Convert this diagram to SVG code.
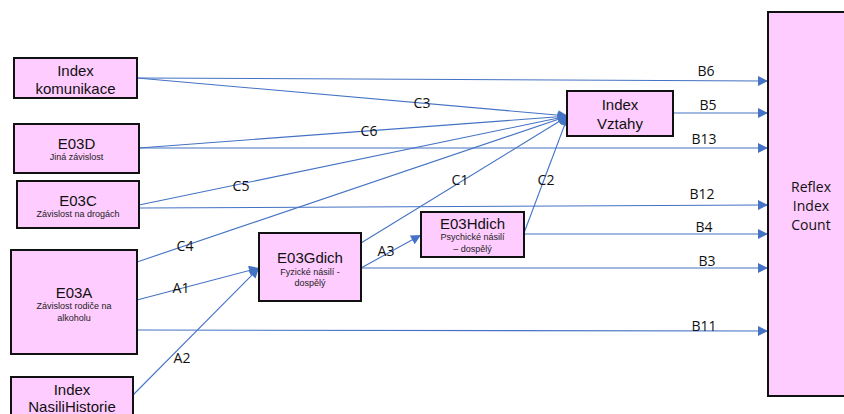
<svg xmlns="http://www.w3.org/2000/svg" width="844" height="414" viewBox="0 0 844 414">
<defs>
<marker id="ah" viewBox="0 0 10 10" refX="10" refY="5" markerWidth="11" markerHeight="10" markerUnits="userSpaceOnUse" orient="auto">
<path d="M0,0 L10,5 L0,10 z" fill="#4472C4"/>
</marker>
<style>
.n rect{fill:#FFCCFF;stroke:#111;stroke-width:2}
.t{font-family:"Liberation Sans",Arial,sans-serif;font-size:15px;fill:#111;text-anchor:middle;dominant-baseline:central}
.s{font-family:"Liberation Sans",Arial,sans-serif;font-size:9px;fill:#222;text-anchor:middle;dominant-baseline:central}
.c line{stroke:#4472C4;stroke-width:1.1;marker-end:url(#ah)}
.l{font-family:"Open Sans","Liberation Sans",sans-serif;font-size:14px;fill:#111;text-anchor:middle;dominant-baseline:central}
</style>
</defs>
<rect width="844" height="414" fill="#fff"/>
<g class="c">
<line x1="137" y1="78" x2="768" y2="81"/>
<line x1="673" y1="113" x2="768" y2="113"/>
<line x1="139" y1="148" x2="768" y2="148"/>
<line x1="139" y1="208" x2="768" y2="205"/>
<line x1="524" y1="234" x2="768" y2="234"/>
<line x1="361" y1="268" x2="768" y2="268"/>
<line x1="137" y1="330" x2="768" y2="331"/>
<line x1="137" y1="78" x2="568" y2="116"/>
<line x1="139" y1="148" x2="568" y2="116"/>
<line x1="139" y1="205" x2="568" y2="116"/>
<line x1="137" y1="262" x2="568" y2="116"/>
<line x1="361" y1="243" x2="568" y2="116"/>
<line x1="524" y1="233" x2="568" y2="116"/>
<line x1="137" y1="300" x2="259" y2="268"/>
<line x1="133" y1="395" x2="259" y2="268"/>
<line x1="361" y1="268" x2="421" y2="235"/>
</g>
<g id="labels">
<text class="l" x="706" y="70">B6</text>
<text class="l" x="708" y="104">B5</text>
<text class="l" x="704" y="138">B13</text>
<text class="l" x="702" y="193">B12</text>
<text class="l" x="704" y="226">B4</text>
<text class="l" x="707" y="260">B3</text>
<text class="l" x="704" y="325">B11</text>
<text class="l" x="422" y="102">C3</text>
<text class="l" x="369" y="130">C6</text>
<text class="l" x="241" y="185">C5</text>
<text class="l" x="185" y="245">C4</text>
<text class="l" x="460" y="179">C1</text>
<text class="l" x="546" y="179">C2</text>
<text class="l" x="181" y="287">A1</text>
<text class="l" x="182" y="357">A2</text>
<text class="l" x="386" y="250">A3</text>
</g>
<g id="komunikace" class="n"><rect x="14" y="58" width="123" height="40"/>
<text class="t" x="75.5" y="70">Index</text><text class="t" x="75.5" y="88">komunikace</text></g>
<g id="E03D" class="n"><rect x="14" y="124" width="125" height="49"/>
<text class="t" x="76.5" y="143">E03D</text><text class="s" x="76.5" y="157">Jiná závislost</text></g>
<g id="E03C" class="n"><rect x="17" y="181" width="122" height="47"/>
<text class="t" x="78" y="200">E03C</text><text class="s" x="78" y="214">Závislost na drogách</text></g>
<g id="E03A" class="n"><rect x="11" y="250" width="126" height="104"/>
<text class="t" x="74" y="292">E03A</text><text class="s" x="74" y="306">Závislost rodiče na</text><text class="s" x="74" y="318">alkoholu</text></g>
<g id="NasiliHistorie" class="n"><rect x="11" y="377" width="122" height="45"/>
<text class="t" x="72" y="389">Index</text><text class="t" x="72" y="406">NasiliHistorie</text></g>
<g id="E03Gdich" class="n"><rect x="259" y="233" width="102" height="68"/>
<text class="t" x="310" y="257">E03Gdich</text><text class="s" x="310" y="272">Fyzické násilí -</text><text class="s" x="310" y="283">dospělý</text></g>
<g id="E03Hdich" class="n"><rect x="421" y="212" width="103" height="45"/>
<text class="t" x="472.5" y="223">E03Hdich</text><text class="s" x="472.5" y="237">Psychické násilí</text><text class="s" x="472.5" y="249">– dospělý</text></g>
<g id="Vztahy" class="n"><rect x="567" y="91" width="106" height="45"/>
<text class="t" x="620" y="104">Index</text><text class="t" x="620" y="123">Vztahy</text></g>
<g id="Reflex" class="n"><rect x="768" y="12" width="90" height="384"/>
<text class="l" x="811" y="186">Reflex</text><text class="l" x="811" y="205">Index</text><text class="l" x="811" y="224">Count</text></g>
</svg>
